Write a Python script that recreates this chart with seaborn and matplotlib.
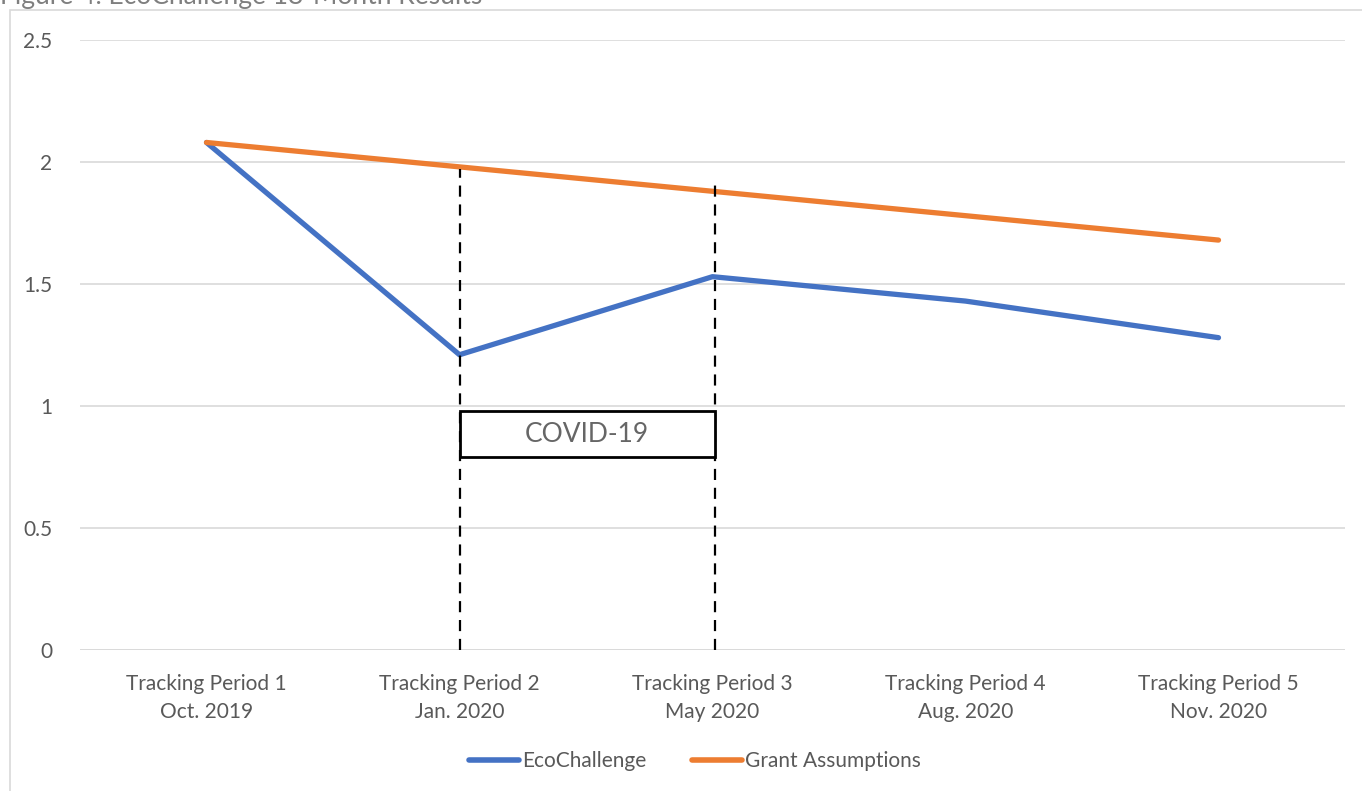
import matplotlib
matplotlib.use("Agg")
import matplotlib.pyplot as plt
from matplotlib.patches import Rectangle
import seaborn as sns
import pandas as pd

categories = ["Tracking Period 1\nOct. 2019", "Tracking Period 2\nJan. 2020",
              "Tracking Period 3\nMay 2020", "Tracking Period 4\nAug. 2020",
              "Tracking Period 5\nNov. 2020"]
eco_values = [2.08, 1.21, 1.53, 1.43, 1.28]
grant_values = [2.08, 1.98, 1.88, 1.78, 1.68]
series_names = ["EcoChallenge", "Grant Assumptions"]
y_ticks = [0, 0.5, 1, 1.5, 2, 2.5]
y_tick_labels = ["0", "0.5", "1", "1.5", "2", "2.5"]
title = "Figure 4. EcoChallenge 18-Month Results"
covid_label = "COVID-19"

sns.set_theme(style="white")
plt.rcParams['font.family'] = ['Lato', 'DejaVu Sans']
text_color = "#595959"
grid_color = "#D9D9D9"
colors = {"EcoChallenge": "#4472C4", "Grant Assumptions": "#ED7D31"}

df = pd.DataFrame({
    "x": list(range(len(categories))) * 2,
    "value": eco_values + grant_values,
    "series": [series_names[0]] * len(eco_values) + [series_names[1]] * len(grant_values),
})

fig = plt.figure(figsize=(13.62, 7.91), dpi=100)
ax = fig.add_axes([80 / 1362, 1 - 650 / 791, (1345 - 80) / 1362, (650 - 40) / 791])

sns.lineplot(data=df, x="x", y="value", hue="series", palette=colors, ax=ax,
             linewidth=3.8, legend=True, zorder=3, solid_capstyle="round")

ax.set_xlim(-0.5, len(categories) - 0.5)
ax.set_ylim(0, 2.5)
ax.set_yticks(y_ticks)
ax.set_yticklabels(y_tick_labels)
ax.set_xticks(range(len(categories)))
ax.set_xticklabels(categories, linespacing=1.55)
ax.tick_params(axis="y", length=0, pad=20, labelsize=15, labelcolor=text_color)
ax.tick_params(axis="x", length=0, pad=17, labelsize=15, labelcolor=text_color)
ax.set_xlabel("")
ax.set_ylabel("")
ax.yaxis.grid(True, color=grid_color, linewidth=1.2)
ax.xaxis.grid(False)
for s in ax.spines.values():
    s.set_visible(False)
ax.axhline(0, color=grid_color, linewidth=1.2, zorder=1)

# COVID annotation: dashed lines and box
ax.plot([1, 1], [0, 1.97], color="black", linewidth=1.6, dashes=(5, 3.5), zorder=4)
ax.plot([2.01, 2.01], [0, 1.91], color="black", linewidth=1.6, dashes=(5, 3.5), zorder=4)
ax.add_patch(Rectangle((1, 0.79), 1.01, 0.19, facecolor="white", edgecolor="black",
                       linewidth=2, zorder=5))
ax.text(1.505, 0.885, covid_label, ha="center", va="center", fontsize=19,
        fontweight="normal", color="#666666", zorder=6)

# legend
handles, labels = ax.get_legend_handles_labels()
ax.get_legend().remove()
for h in handles:
    h.set_linewidth(4)
    h.set_solid_capstyle("round")
fig.legend(handles, labels, loc="center", bbox_to_anchor=(695 / 1362, 1 - 761 / 791),
           ncol=2, frameon=False, fontsize=15, handlelength=2.4, handletextpad=0.15,
           columnspacing=2.2, labelcolor=text_color)

# chart border
fig.patches.append(Rectangle((10 / 1362, -0.1), 1.2, 1.1 - 10 / 791, transform=fig.transFigure,
                             fill=False, edgecolor=grid_color, linewidth=1.2, zorder=0))

fig.text(0.0, 1 - 4 / 791, title, ha="left", va="baseline", fontsize=19, color="#7F7F7F")

fig.savefig("out.png", dpi=100)
